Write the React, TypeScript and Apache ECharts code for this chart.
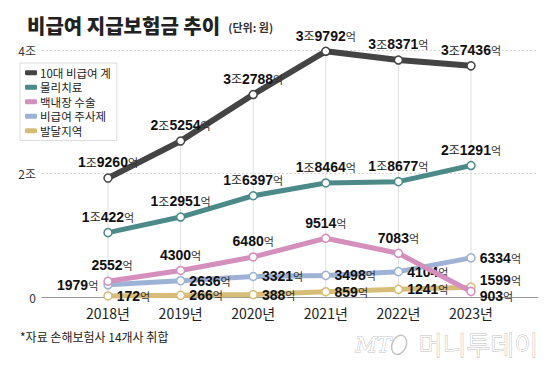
import React, { useEffect, useRef } from "react";
import * as echarts from "echarts";

const years = ["2018년", "2019년", "2020년", "2021년", "2022년", "2023년"];
const seriesNames = ["10대 비급여 계", "물리치료", "백내장 수술", "비급여 주사제", "발달지역"];
const total = [19260, 25254, 32788, 39792, 38371, 37436];
const physio = [10422, 12951, 16397, 18464, 18677, 21291];
const cataract = [2552, 4300, 6480, 9514, 7083, 903];
const injection = [1979, 2636, 3321, 3498, 4104, 6334];
const devDelay = [172, 266, 388, 859, 1241, 1599];
const yTickLabels = ["0", "2조", "4조"];
const colors = ["#444444", "#4b8a89", "#d48fbd", "#9db2d4", "#d7bd78"];

const KR = "'Noto Sans CJK KR', 'Noto Sans', sans-serif";
const NUM = "'Liberation Sans', Arial, sans-serif";

function fmt(p: any) {
  const v = p.value as number;
  const jo = Math.floor(v / 10000);
  const eok = v % 10000;
  return jo > 0 ? `{n|${jo}}{j|조}{n|${eok}}{e|억}` : `{n|${eok}}{e|억}`;
}

const rich = {
  n: { fontSize: 14, fontWeight: "bold", color: "#111", fontFamily: NUM },
  j: { fontSize: 12, color: "#222", fontFamily: KR },
  e: { fontSize: 11, color: "#333", fontFamily: KR },
};

function lineSeries(name: string, values: number[], color: string, labelCfg: (i: number) => any, z: number, width = 5) {
  return {
    type: "line",
    name,
    xAxisIndex: 1,
    yAxisIndex: 1,
    z,
    data: values.map((v, i) => ({ value: v, label: labelCfg(i) })),
    symbol: "circle",
    symbolSize: 8,
    showAllSymbol: true,
    lineStyle: { color, width },
    itemStyle: { color: "#fff", borderColor: color, borderWidth: 1.5 },
    label: { show: true, formatter: fmt, rich, position: "top", distance: 4 },
    emphasis: { disabled: true },
  };
}

export default function App() {
  const ref = useRef<HTMLDivElement>(null);
  useEffect(() => {
    document.body.style.margin = "0";
    const chart = echarts.init(ref.current!, null, { renderer: "svg" });
    const option: any = {
      animation: false,
      backgroundColor: "#fff",
      textStyle: { fontFamily: KR },
      grid: [
        { left: 42, right: 22, top: 50, bottom: 73 },
        { left: 108, right: 89, top: 50, bottom: 73 },
      ],
      xAxis: [
        {
          type: "value",
          gridIndex: 0,
          min: 0,
          max: 1,
          axisLine: { show: true, onZero: true, lineStyle: { color: "#999", width: 1 } },
          axisTick: { show: false },
          axisLabel: { show: false },
          splitLine: { show: false },
        },
        {
          type: "category",
          gridIndex: 1,
          data: years,
          boundaryGap: false,
          axisLine: { show: false },
          axisTick: { show: false },
          splitLine: { show: false },
          axisLabel: { color: "#222", fontSize: 14, margin: 9, fontFamily: KR },
        },
      ],
      yAxis: [
        {
          type: "value",
          gridIndex: 0,
          min: 0,
          max: 40000,
          interval: 20000,
          axisLine: { show: false },
          axisTick: { show: false },
          axisLabel: {
            color: "#333",
            fontSize: 12,
            margin: 6,
            fontFamily: KR,
            formatter: (v: number) => yTickLabels[Math.round(v / 20000)],
          },
          splitLine: { show: true, lineStyle: { color: "#d8d8d8", type: [2, 2], width: 1 } },
        },
        {
          type: "value",
          gridIndex: 1,
          min: 0,
          max: 40000,
          interval: 20000,
          show: false,
          splitLine: { show: false },
        },
      ],
      legend: {
        orient: "vertical",
        left: 20,
        top: 63,
        padding: [4, 6, 4, 5],
        itemGap: 3,
        itemWidth: 12,
        itemHeight: 5,
        icon: "roundRect",
        backgroundColor: "#fff",
        borderColor: "#dddddd",
        borderWidth: 1,
        borderRadius: 0,
        textStyle: { fontSize: 11.5, color: "#222", fontFamily: KR, padding: [0, 0, 0, -2] },
        data: seriesNames.map((n, i) => ({ name: n, itemStyle: { color: colors[i], borderWidth: 0 } })),
        selectedMode: false,
        z: 10,
      },
      title: {
        left: 22,
        top: 10,
        text: "{t|비급여 지급보험금 추이}  {u|(단위: 원)}",
        textStyle: {
          rich: {
            t: { fontSize: 20, fontWeight: 900, color: "#222", fontFamily: KR },
            u: { fontSize: 11, color: "#333", fontFamily: KR, padding: [4, 0, 0, 0] },
          },
        },
      },
      graphic: [
        {
          type: "text",
          left: 20,
          top: 330,
          style: { text: "*자료 손해보험사 14개사 취합", fontSize: 12, fill: "#222", fontFamily: KR },
        },
        {
          type: "text",
          left: 355,
          top: 334,
          style: {
            text: "MT",
            fontSize: 21,
            fontStyle: "italic",
            fontWeight: 300,
            fill: "#fff",
            stroke: "#c4c4c4",
            lineWidth: 1,
            fontFamily: "'DejaVu Serif', serif",
          },
        },
        {
          type: "ellipse",
          shape: { cx: 399, cy: 345, rx: 7, ry: 10 },
          rotation: -0.4,
          originX: 399,
          originY: 345,
          style: { fill: "none", stroke: "#c4c4c4", lineWidth: 1.5 },
        },
        {
          type: "text",
          left: 418,
          top: 330,
          style: {
            text: "머니투데이",
            fontSize: 26,
            fontWeight: 300,
            fill: "#fff",
            stroke: "#c0c0c0",
            lineWidth: 1,
            fontFamily: KR,
          },
        },
      ],
      series: [
        {
          type: "bar",
          xAxisIndex: 1,
          yAxisIndex: 1,
          data: total,
          barWidth: 1,
          itemStyle: { color: "#e0e0e0" },
          silent: true,
          z: 1,
          emphasis: { disabled: true },
        },
        lineSeries(seriesNames[4], devDelay, colors[4],
          (i) => (i === 5 ? { position: "right", distance: 4, offset: [0, -7] } : { position: "right", distance: 4 }), 3),
        lineSeries(seriesNames[3], injection, colors[3],
          (i) => (i === 0 ? { position: "left", distance: 5 } : { position: "right", distance: 4 }), 4),
        lineSeries(seriesNames[2], cataract, colors[2],
          (i) => (i === 5 ? { position: "right", distance: 4, offset: [0, 5] } : i === 0 ? { position: "top", offset: [4, 0] } : { position: "top" }), 5),
        lineSeries(seriesNames[1], physio, colors[1], () => ({ position: "top" }), 6),
        lineSeries(seriesNames[0], total, colors[0], () => ({ position: "top" }), 7, 6),
      ],
    };
    chart.setOption(option);
    return () => chart.dispose();
  }, []);
  return <div ref={ref} style={{ position: "fixed", left: 0, top: 0, width: 560, height: 370 }} />;
}
